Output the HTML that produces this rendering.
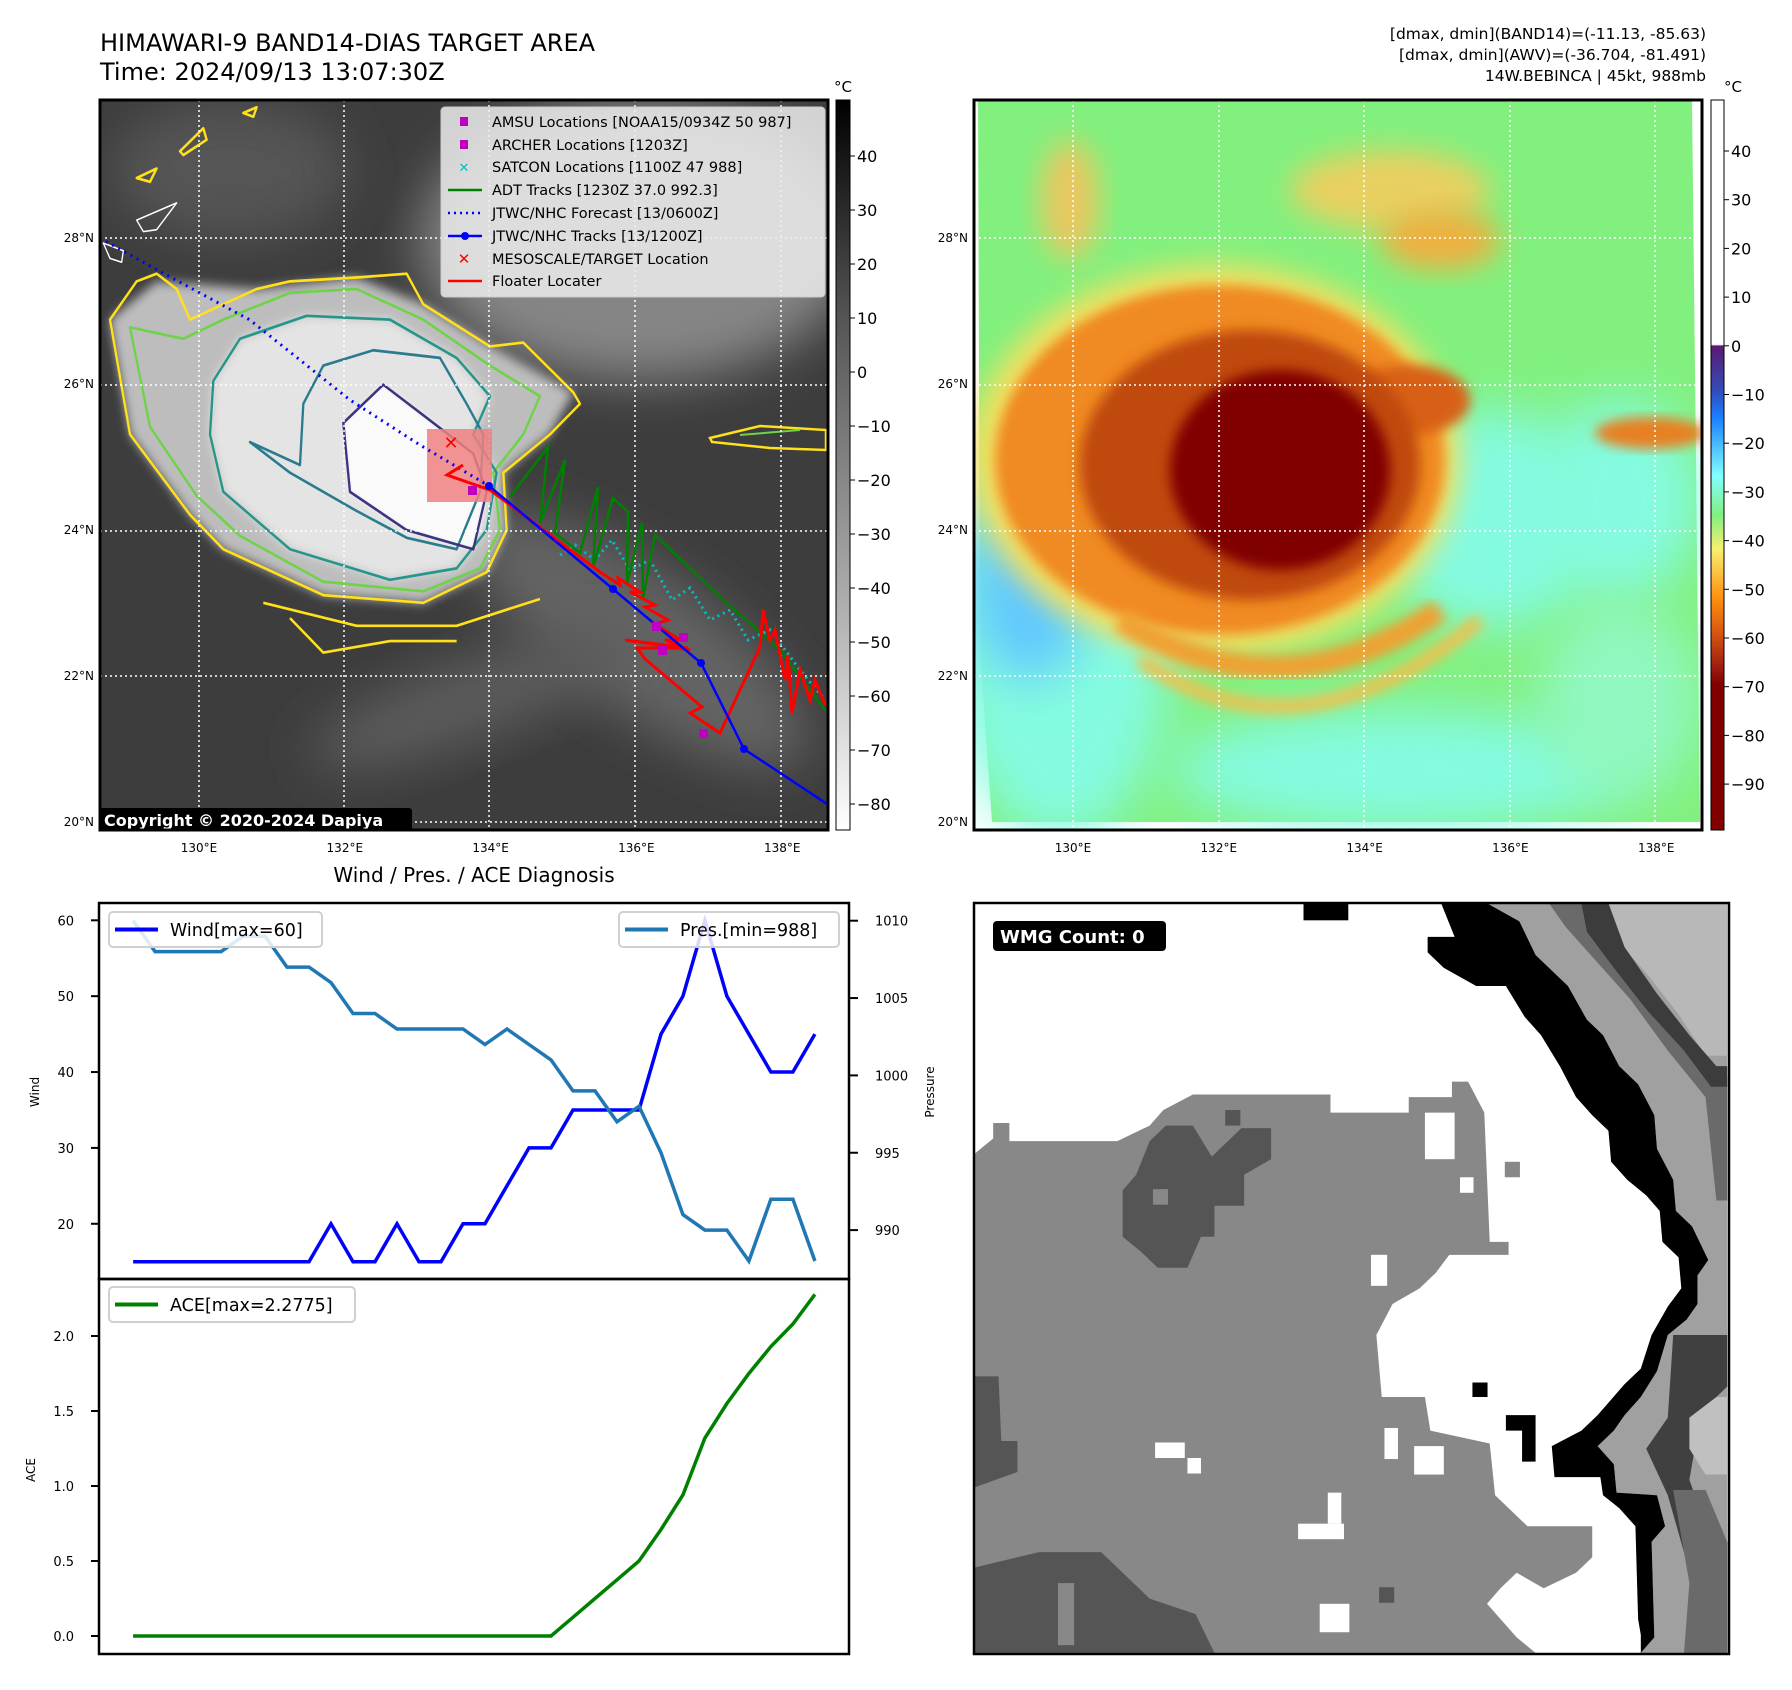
<!DOCTYPE html>
<html><head><meta charset="utf-8"><style>
html,body{margin:0;padding:0;background:#fff;}
svg{display:block;font-family:"DejaVu Sans","Liberation Sans",sans-serif;}
</style></head><body>
<svg id="root" width="1792" height="1690" viewBox="0 0 1792 1690" xmlns="http://www.w3.org/2000/svg">
<defs>
<filter id="b6" x="-20%" y="-20%" width="140%" height="140%"><feGaussianBlur stdDeviation="6"/></filter>
<filter id="b14" x="-30%" y="-30%" width="160%" height="160%"><feGaussianBlur stdDeviation="14"/></filter>
<filter id="b25" x="-40%" y="-40%" width="180%" height="180%"><feGaussianBlur stdDeviation="25"/></filter>
<clipPath id="clipL"><rect x="100" y="100" width="728" height="730"/></clipPath>
<clipPath id="clipR"><rect x="974" y="100" width="728" height="730"/></clipPath>
<clipPath id="clipW"><rect x="974" y="903" width="755" height="751"/></clipPath>
<linearGradient id="grayCb" x1="0" y1="0" x2="0" y2="1">
<stop offset="0" stop-color="#000"/><stop offset="0.3" stop-color="#555"/><stop offset="0.7" stop-color="#b0b0b0"/><stop offset="1" stop-color="#fff"/>
</linearGradient>
<linearGradient id="colCb" x1="0" y1="0" x2="0" y2="1">
<stop offset="0" stop-color="#fff"/><stop offset="0.335" stop-color="#fff"/><stop offset="0.337" stop-color="#5a1a6e"/>
<stop offset="0.402" stop-color="#3050c0"/><stop offset="0.435" stop-color="#1a80ff"/><stop offset="0.515" stop-color="#80ffff"/>
<stop offset="0.569" stop-color="#80f080"/><stop offset="0.615" stop-color="#f8f070"/><stop offset="0.682" stop-color="#ff9010"/>
<stop offset="0.722" stop-color="#e06010"/><stop offset="0.775" stop-color="#a02010"/><stop offset="0.801" stop-color="#800000"/><stop offset="1" stop-color="#800000"/>
</linearGradient>
</defs>

<!-- Titles -->
<text x="100" y="51" font-size="24">HIMAWARI-9 BAND14-DIAS TARGET AREA</text>
<text x="100" y="80" font-size="24">Time: 2024/09/13 13:07:30Z</text>
<g font-size="15.5" text-anchor="end">
<text x="1706" y="39">[dmax, dmin](BAND14)=(-11.13, -85.63)</text>
<text x="1706" y="60">[dmax, dmin](AWV)=(-36.704, -81.491)</text>
<text x="1706" y="81">14W.BEBINCA | 45kt, 988mb</text>
</g>

<!-- LEFT MAP -->
<g clip-path="url(#clipL)">
<rect x="100" y="100" width="728" height="730" fill="#3d3d3d"/>
<ellipse cx="640" cy="240" rx="220" ry="140" fill="#858585" filter="url(#b25)"/>
<ellipse cx="230" cy="170" rx="120" ry="70" fill="#555" filter="url(#b25)"/>
<ellipse cx="640" cy="640" rx="200" ry="70" transform="rotate(35 640 640)" fill="#646464" filter="url(#b25)"/>
<ellipse cx="470" cy="700" rx="170" ry="40" transform="rotate(-20 470 700)" fill="#5c5c5c" filter="url(#b25)"/>
<g transform="translate(90,90) scale(0.3333,0.3827)">
<path d="M60,600 L200,500 L500,520 L800,490 L1000,560 L1200,670 L1450,790 L1380,900 L1240,1000 L1250,1150 L1190,1260 L1000,1340 L700,1320 L400,1200 L300,1110 L120,900 Z" fill="#bdbdbd" filter="url(#b14)"/>
<path d="M370,760 L450,650 L650,590 L900,600 L1100,700 L1200,800 L1150,900 L1220,1000 L1190,1150 L1100,1250 L900,1280 L600,1200 L400,1050 L360,900 Z" fill="#e4e4e4" filter="url(#b14)"/>
<path d="M760,870 L880,770 L1000,850 L1150,950 L1190,1050 L1150,1200 L950,1150 L780,1050 Z" fill="#fafafa" filter="url(#b6)"/>
<g fill="none" stroke-width="7" stroke-linejoin="round">
<path d="M60,600 L140,500 L200,480 L260,520 L300,600 L400,560 L500,520 L600,500 L800,490 L950,480 L1000,560 L1200,670 L1300,660 L1450,790 L1470,820 L1380,900 L1240,1000 L1250,1150 L1190,1260 L1000,1340 L700,1320 L400,1200 L300,1110 L120,900 Z" stroke="#ffe01a"/>
<path d="M120,620 L280,650 L400,600 L600,530 L800,520 L1000,600 L1200,720 L1350,800 L1300,900 L1210,1000 L1230,1150 L1170,1250 L1000,1310 L700,1285 L450,1165 L320,1060 L180,880 Z" stroke="#6fd34a"/>
<path d="M370,760 L450,650 L650,590 L900,600 L1100,700 L1200,800 L1150,900 L1220,1000 L1190,1150 L1100,1250 L900,1280 L600,1200 L400,1050 L360,900 Z" stroke="#26968a"/>
<path d="M480,920 L630,980 L640,820 L700,720 L850,680 L1050,700 L1130,820 L1180,900 L1170,1050 L1100,1200 L950,1170 L800,1100 L600,1000 Z" stroke="#2b7b8e"/>
<path d="M760,870 L880,770 L1000,850 L1150,950 L1190,1050 L1150,1200 L950,1150 L780,1050 Z" stroke="#3b3580"/>
<path d="M520,1340 L800,1400 L1100,1400 L1350,1330 M600,1380 L700,1470 L900,1440 L1100,1440" stroke="#ffe01a"/>
<path d="M270,160 L340,100 L350,130 L280,170 Z M140,230 L200,205 L180,240 Z M460,60 L500,45 L490,70 Z" stroke="#ffe01a"/>
<path d="M140,340 L260,295 L200,365 L160,370 Z M40,400 L100,420 L95,450 L60,440 Z" stroke="#fff" stroke-width="4"/>
</g>
</g>
<path d="M710,438 L760,426 L826,430 L826,450 L770,448 L712,442 Z" fill="none" stroke="#ffe01a" stroke-width="2.5"/>
<path d="M740,435 L800,430" stroke="#6fd34a" stroke-width="2"/>
<g stroke="#fff" stroke-width="1.5" stroke-dasharray="2,3">
<line x1="199" y1="100" x2="199" y2="830"/><line x1="344" y1="100" x2="344" y2="830"/><line x1="489" y1="100" x2="489" y2="830"/><line x1="635" y1="100" x2="635" y2="830"/><line x1="781" y1="100" x2="781" y2="830"/>
<line x1="100" y1="238" x2="828" y2="238"/><line x1="100" y1="385" x2="828" y2="385"/><line x1="100" y1="531" x2="828" y2="531"/><line x1="100" y1="676" x2="828" y2="676"/><line x1="100" y1="822" x2="828" y2="822"/>
</g>
<rect x="427" y="429" width="65" height="73" fill="#f08080" opacity="0.85"/>
<polyline points="100,238 150,266 250,320 350,400 420,445 489,486" fill="none" stroke="#0000ff" stroke-width="3" stroke-dasharray="2,5"/>
<polyline points="560,555 575,545 595,560 612,540 630,570 650,560 672,600 690,588 710,620 730,610 748,640 770,630 800,670 825,700" fill="none" stroke="#00bfbf" stroke-width="3" stroke-dasharray="2,4"/>
<polyline points="510,497 548,447 540,523 565,460 555,533 580,553 598,487 593,568 613,498 628,512 627,583 642,523 643,598 655,535 720,597 780,650 825,710" fill="none" stroke="#008000" stroke-width="2.5"/>
<polyline points="463,465 447,475 490,490 600,572 620,585 618,578 640,592 630,592 655,605 645,607 668,620 655,624 680,640 665,640 690,650 625,640 688,648 637,648 645,659 702,707 690,713 720,733 760,647 763,610 770,640 775,630 785,680 788,655 792,713 800,670 810,700 815,680 825,705" fill="none" stroke="#ff0000" stroke-width="3" stroke-linejoin="miter"/>
<polyline points="489,486 613,589 701,663 744,749 830,806" fill="none" stroke="#0000ff" stroke-width="2.5"/>
<g fill="#0000ff"><circle cx="489" cy="486" r="4"/><circle cx="613" cy="589" r="4"/><circle cx="701" cy="663" r="4"/><circle cx="744" cy="749" r="4"/></g>
<g fill="#bf00bf"><rect x="468" y="486" width="9" height="9"/><rect x="652" y="622" width="9" height="9"/><rect x="679" y="633" width="9" height="9"/><rect x="658" y="646" width="9" height="9"/><rect x="699" y="729" width="9" height="9"/></g>
<text x="451" y="449" font-size="18" font-weight="bold" fill="#ff0000" text-anchor="middle">✕</text>
<g>
<rect x="441" y="107" width="384" height="190" rx="4" fill="#ececec" fill-opacity="0.85" stroke="#ccc"/>
<g font-size="14.5" fill="#000">
<rect x="460" y="117" width="8" height="9" fill="#bf00bf"/><text x="492" y="127">AMSU Locations [NOAA15/0934Z 50 987]</text>
<rect x="460" y="140" width="8" height="9" fill="#bf00bf"/><text x="492" y="150">ARCHER Locations [1203Z]</text>
<text x="464" y="172" fill="#00bfbf" font-size="13" text-anchor="middle" font-weight="bold">✕</text><text x="492" y="172">SATCON Locations [1100Z 47 988]</text>
<line x1="448" y1="190" x2="482" y2="190" stroke="#008000" stroke-width="2.5"/><text x="492" y="195">ADT Tracks [1230Z 37.0 992.3]</text>
<line x1="448" y1="213" x2="482" y2="213" stroke="#0000ff" stroke-width="2.5" stroke-dasharray="2,4"/><text x="492" y="218">JTWC/NHC Forecast [13/0600Z]</text>
<line x1="448" y1="236" x2="482" y2="236" stroke="#0000ff" stroke-width="2.5"/><circle cx="465" cy="236" r="4" fill="#0000ff"/><text x="492" y="241">JTWC/NHC Tracks [13/1200Z]</text>
<text x="464" y="264" fill="#ff0000" font-size="15" text-anchor="middle" font-weight="bold">✕</text><text x="492" y="264">MESOSCALE/TARGET Location</text>
<line x1="448" y1="281" x2="482" y2="281" stroke="#ff0000" stroke-width="2.5"/><text x="492" y="286">Floater Locater</text>
</g></g>
<rect x="100" y="808" width="312" height="24" rx="3" fill="#000"/>
<text x="104" y="826" font-size="16" font-weight="bold" fill="#fff">Copyright © 2020-2024 Dapiya</text>
</g>
<rect x="100" y="100" width="728" height="730" fill="none" stroke="#000" stroke-width="3"/>

<!-- RIGHT MAP -->
<g clip-path="url(#clipR)">
<rect x="974" y="100" width="728" height="730" fill="#fff"/>
<polygon points="988,100 1692,100 1700,822 992,822 980,650 978,100" fill="#82f07e"/>
<ellipse cx="1060" cy="650" rx="110" ry="190" fill="#84fbe0" filter="url(#b25)"/>
<ellipse cx="1030" cy="580" rx="60" ry="100" fill="#60c8ff" filter="url(#b25)"/>
<ellipse cx="1490" cy="520" rx="110" ry="110" fill="#84fbe0" filter="url(#b25)"/>
<ellipse cx="1620" cy="500" rx="80" ry="100" fill="#84fbe0" filter="url(#b25)"/>
<ellipse cx="1400" cy="770" rx="230" ry="60" fill="#84fbe0" filter="url(#b25)"/>
<ellipse cx="1620" cy="700" rx="80" ry="100" fill="#90f8c0" filter="url(#b25)"/>
<ellipse cx="1390" cy="190" rx="100" ry="40" fill="#e8d060" filter="url(#b14)"/>
<ellipse cx="1440" cy="240" rx="60" ry="30" fill="#f0b040" filter="url(#b14)"/>
<ellipse cx="1070" cy="200" rx="30" ry="60" fill="#e8c860" filter="url(#b14)"/>
<ellipse cx="1215" cy="460" rx="245" ry="195" fill="#f4e060" filter="url(#b14)"/>
<ellipse cx="1220" cy="460" rx="225" ry="175" fill="#f08a20" filter="url(#b6)"/>
<ellipse cx="1410" cy="400" rx="60" ry="35" fill="#d86018" filter="url(#b6)"/>
<ellipse cx="1250" cy="465" rx="170" ry="135" fill="#c04a10" filter="url(#b6)"/>
<ellipse cx="1280" cy="470" rx="110" ry="100" fill="#800000" filter="url(#b6)"/>
<ellipse cx="1300" cy="480" rx="70" ry="75" fill="#800000"/>
<path d="M1120,620 Q1280,720 1440,610" fill="none" stroke="#f0a030" stroke-width="24" filter="url(#b6)"/>
<path d="M1140,660 Q1300,770 1480,620" fill="none" stroke="#f0c050" stroke-width="14" filter="url(#b6)"/>
<ellipse cx="1650" cy="433" rx="55" ry="16" fill="#e88020" filter="url(#b6)"/>
<g stroke="#fff" stroke-width="1.5" stroke-dasharray="2,3">
<line x1="1073" y1="100" x2="1073" y2="830"/><line x1="1219" y1="100" x2="1219" y2="830"/><line x1="1364" y1="100" x2="1364" y2="830"/><line x1="1510" y1="100" x2="1510" y2="830"/><line x1="1655" y1="100" x2="1655" y2="830"/>
<line x1="974" y1="238" x2="1702" y2="238"/><line x1="974" y1="385" x2="1702" y2="385"/><line x1="974" y1="531" x2="1702" y2="531"/><line x1="974" y1="676" x2="1702" y2="676"/>
</g>
</g>
<rect x="974" y="100" width="728" height="730" fill="none" stroke="#000" stroke-width="3"/>

<rect x="836" y="100" width="14" height="730" fill="url(#grayCb)" stroke="#000" stroke-width="1"/>
<rect x="1711" y="100" width="13" height="730" fill="url(#colCb)" stroke="#000" stroke-width="1"/>
<text x="843" y="92" font-size="15" text-anchor="middle">°C</text>
<text x="1733" y="92" font-size="15" text-anchor="middle">°C</text>
<g id="cbticks" font-size="16"></g>
<g id="mapticks" font-size="12"></g>

<text x="474" y="882" font-size="20" text-anchor="middle">Wind / Pres. / ACE Diagnosis</text>
<g id="chart"></g>

<!-- WMG panel -->
<g clip-path="url(#clipW)">
<rect x="974" y="903" width="755" height="751" fill="#fff"/>
<g transform="translate(950,880) scale(0.5397,0.517)">
<path d="M45,530 L80,500 L80,470 L110,470 L110,505 L230,505 L310,505 L370,475 L395,445 L450,415 L705,415 L705,450 L850,450 L850,420 L930,420 L930,390 L960,390 L990,450 L1000,700 L1035,700 L1035,725 L925,725 L900,760 L870,790 L820,820 L790,880 L800,1000 L880,1000 L890,1065 L1000,1090 L1010,1190 L1070,1250 L1190,1250 L1190,1310 L1160,1340 L1100,1370 L1050,1340 L1020,1370 L995,1400 L1050,1465 L1085,1495 L45,1495 Z" fill="#888"/>
<path d="M320,600 L345,570 L370,505 L400,475 L450,475 L485,535 L540,480 L595,480 L595,540 L545,570 L545,630 L490,630 L490,690 L465,690 L440,750 L385,750 L355,720 L320,690 Z" fill="#555"/>
<path d="M45,1330 L165,1300 L280,1300 L310,1330 L370,1390 L455,1420 L490,1495 L45,1495 Z" fill="#555"/>
<path d="M45,960 L90,960 L95,1085 L125,1085 L125,1145 L45,1175 Z" fill="#555"/>
<rect x="200" y="1360" width="30" height="120" fill="#888"/>
<g fill="#fff"><rect x="380" y="1088" width="55" height="30"/><rect x="440" y="1118" width="25" height="30"/><rect x="645" y="1245" width="85" height="30"/><rect x="700" y="1185" width="25" height="60"/><rect x="685" y="1400" width="55" height="55"/><rect x="780" y="725" width="30" height="60"/><rect x="945" y="575" width="25" height="30"/><rect x="880" y="450" width="55" height="90"/><rect x="805" y="1060" width="25" height="60"/><rect x="860" y="1095" width="55" height="55"/></g>
<path d="M995,45 L1440,45 L1440,1495 L1280,1495 L1305,1465 L1300,1280 L1325,1250 L1310,1190 L1235,1185 L1230,1130 L1200,1095 L1230,1065 L1250,1035 L1280,1000 L1310,950 L1330,880 L1365,850 L1385,820 L1385,765 L1405,735 L1375,670 L1345,640 L1340,580 L1310,520 L1305,455 L1275,395 L1240,360 L1210,300 L1180,270 L1145,205 L1085,145 L1055,80 Z" fill="#a0a0a0"/>
<path d="M1200,45 L1440,45 L1440,340 L1400,340 L1350,260 L1290,180 L1230,110 Z" fill="#b8b8b8"/>
<path d="M1110,45 L1170,45 L1230,150 L1300,240 L1360,330 L1410,380 L1440,380 L1440,620 L1420,620 L1400,420 L1330,330 L1260,230 L1200,160 L1140,90 Z" fill="#6a6a6a"/>
<path d="M1170,45 L1220,45 L1250,130 L1310,220 L1370,300 L1420,360 L1440,360 L1440,400 L1410,400 L1360,330 L1290,250 L1230,170 L1180,100 Z" fill="#3c3c3c"/>
<path d="M1340,880 L1440,880 L1440,980 L1420,1000 L1390,1040 L1370,1160 L1410,1280 L1440,1280 L1440,1495 L1420,1495 L1400,1350 L1360,1300 L1330,1190 L1290,1100 L1330,1040 Z" fill="#404040"/>
<path d="M1370,1040 L1420,1000 L1440,1000 L1440,1150 L1400,1150 L1370,1100 Z" fill="#c0c0c0"/>
<path d="M1340,1180 L1400,1180 L1440,1280 L1440,1495 L1360,1495 L1370,1360 Z" fill="#6a6a6a"/>
<path d="M910,45 L995,45 L1055,80 L1085,145 L1145,205 L1180,270 L1210,300 L1240,360 L1275,395 L1305,455 L1310,520 L1340,580 L1345,640 L1375,670 L1405,735 L1385,765 L1385,820 L1365,850 L1330,880 L1310,950 L1280,1000 L1250,1035 L1230,1065 L1200,1095 L1230,1130 L1235,1185 L1310,1190 L1325,1250 L1300,1280 L1305,1465 L1280,1495 L1280,1460 L1275,1430 L1270,1250 L1240,1215 L1210,1190 L1205,1155 L1120,1155 L1115,1095 L1170,1065 L1200,1035 L1225,1005 L1250,975 L1280,945 L1300,880 L1330,825 L1355,790 L1350,730 L1320,700 L1315,640 L1290,610 L1255,580 L1225,545 L1220,485 L1190,455 L1160,420 L1130,360 L1095,300 L1065,265 L1030,205 L975,205 L915,170 L885,140 L885,110 L935,110 Z" fill="#000"/>
<rect x="655" y="45" width="83" height="33" fill="#000"/><rect x="968" y="972" width="28" height="28" fill="#000"/>
<path d="M1030,1035 L1085,1035 L1085,1125 L1060,1125 L1060,1065 L1030,1065 Z" fill="#000"/>
<rect x="795" y="1368" width="28" height="30" fill="#555"/><rect x="510" y="445" width="28" height="30" fill="#555"/><rect x="376" y="598" width="28" height="30" fill="#888"/><rect x="1028" y="545" width="28" height="30" fill="#888"/>
</g>
<rect x="993" y="921" width="173" height="30" rx="4" fill="#000"/>
<text x="1000" y="943" font-size="18" font-weight="bold" fill="#fff">WMG Count: 0</text>
</g>
<rect x="974" y="903" width="755" height="751" fill="none" stroke="#000" stroke-width="2.5"/>
</svg>

<script>
const steps = [0,1,2,3,4,5,6,7,8,9,10,11,12,13,14,15,16,17,18,19,20,21,22,23,24,25,26,27,28,29,30,31];
const windValues = [15,15,15,15,15,15,15,15,15,20,15,15,20,15,15,20,20,25,30,30,35,35,35,35,45,50,60,50,45,40,40,45];
const presValues = [1010,1008,1008,1008,1008,1009,1009,1007,1007,1006,1004,1004,1003,1003,1003,1003,1002,1003,1002,1001,999,999,997,998,995,991,990,990,988,992,992,988];
const aceValues = [0,0,0,0,0,0,0,0,0,0,0,0,0,0,0,0,0,0,0,0,0.125,0.25,0.375,0.5,0.71,0.94,1.32,1.55,1.75,1.93,2.08,2.2775];
const windTicks = [20,30,40,50,60];
const presTicks = [990,995,1000,1005,1010];
const aceTicks = [0.0,0.5,1.0,1.5,2.0];
const irCbTicks = [40,30,20,10,0,-10,-20,-30,-40,-50,-60,-70,-80];
const awvCbTicks = [40,30,20,10,0,-10,-20,-30,-40,-50,-60,-70,-80,-90];
const lonTicks = [130,132,134,136,138];
const latTicks = [20,22,24,26,28];

const NS='http://www.w3.org/2000/svg';
function mk(tag, attrs, parent){const e=document.createElementNS(NS,tag);for(const k in attrs)e.setAttribute(k,attrs[k]);parent.appendChild(e);return e;}
const chart=document.getElementById('chart');
const L=99,R=849,T1=903,M=1279,B=1654;
const xS=i=>L+(i+1.55)/34.1*(R-L);
const windY=v=>920.3+(60-v)*7.587;
const presY=p=>920.7+(1010-p)*15.47;
const aceY=a=>1636-a*150;
function fmt(v){return (v<0?'\u2212':'')+Math.abs(v);}

let f=mk('rect',{x:L,y:T1,width:R-L,height:M-T1,fill:'none',stroke:'#000','stroke-width':2.5},chart);


f=mk('rect',{x:L,y:M,width:R-L,height:B-M,fill:'none',stroke:'#000','stroke-width':2.5},chart);



function line(vals,yf,color,name){
  const pts=vals.map((v,i)=>xS(steps[i]).toFixed(1)+','+yf(v).toFixed(1)).join(' ');
  const p=mk('polyline',{points:pts,fill:'none',stroke:color,'stroke-width':3.5,'stroke-linejoin':'miter'},chart);
  
  
}
line(windValues,windY,'#0000ff','wind-line');
line(presValues,presY,'#1f77b4','pressure-line');
line(aceValues,aceY,'#008000','ace-line');

windTicks.forEach(v=>{const y=windY(v);mk('line',{x1:L-8,y1:y,x2:L,y2:y,stroke:'#000','stroke-width':2},chart);
 const t=mk('text',{x:74,y:y+5,'font-size':13,'text-anchor':'end'},chart);t.textContent=v;
 
 });
presTicks.forEach(v=>{const y=presY(v);mk('line',{x1:R,y1:y,x2:R+9,y2:y,stroke:'#000','stroke-width':2},chart);
 const t=mk('text',{x:875,y:y+5,'font-size':13},chart);t.textContent=v;
 
 });
aceTicks.forEach(v=>{const y=aceY(v);mk('line',{x1:L-8,y1:y,x2:L,y2:y,stroke:'#000','stroke-width':2},chart);
 const t=mk('text',{x:74,y:y+5,'font-size':13,'text-anchor':'end'},chart);t.textContent=v.toFixed(1);
 
 });

function ylabel(txt,x,y,name){const t=mk('text',{x:x,y:y,'font-size':12,'text-anchor':'middle',transform:'rotate(-90 '+x+' '+y+')'},chart);t.textContent=txt;
 
 }
ylabel('Wind',39,1092,'wind-axis-title');
ylabel('Pressure',934,1092,'pressure-axis-title');
ylabel('ACE',35,1470,'ace-axis-title');

function legend(x,y,w,label,color,name){
 const g=mk('g',{},chart);
 
 
 mk('rect',{x:x,y:y,width:w,height:35,rx:4,fill:'#fff','fill-opacity':0.85,stroke:'#d0d0d0','stroke-width':2},g);
 mk('line',{x1:x+6,y1:y+17.5,x2:x+49,y2:y+17.5,stroke:color,'stroke-width':4},g);
 const t=mk('text',{x:x+61,y:y+24,'font-size':17.5},g);t.textContent=label;
}
legend(109,912,213,'Wind[max=60]','#0000ff','wind-legend');
legend(619,912,220,'Pres.[min=988]','#1f77b4','pressure-legend');
legend(109,1287,246,'ACE[max=2.2775]','#008000','ace-legend');

const cb=document.getElementById('cbticks');
irCbTicks.forEach(v=>{const y=156+(40-v)*5.4;mk('line',{x1:850,y1:y,x2:855,y2:y,stroke:'#000'},cb);
 const t=mk('text',{x:857,y:y+6},cb);t.textContent=fmt(v);
 
 });
awvCbTicks.forEach(v=>{const y=151+(40-v)*4.87;mk('line',{x1:1724,y1:y,x2:1729,y2:y,stroke:'#000'},cb);
 const t=mk('text',{x:1731,y:y+6},cb);t.textContent=fmt(v);
 
 });

const mt=document.getElementById('mapticks');
[0,874].forEach(off=>{
 lonTicks.forEach(lo=>{const x=199+(lo-130)*72.9+off;const t=mk('text',{x:x,y:852,'text-anchor':'middle'},mt);t.textContent=lo+'°E';
  
  });
 latTicks.forEach(la=>{const y=822-(la-20)*73+4;const t=mk('text',{x:94+off,y:y,'text-anchor':'end'},mt);t.textContent=la+'°N';
  
  });
});
</script>
</body></html>
